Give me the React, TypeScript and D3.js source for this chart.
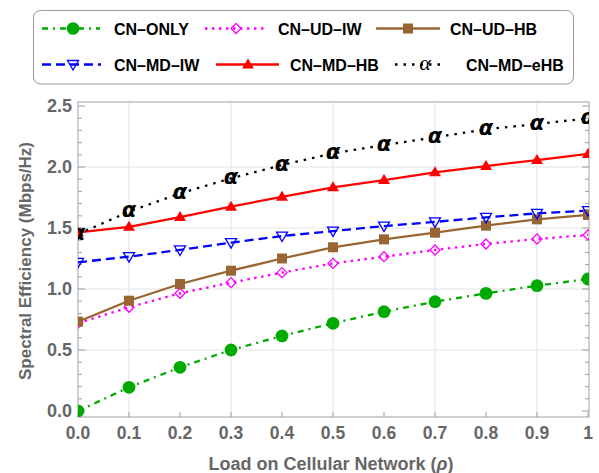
import React from "react";
import * as d3 from "d3";

const rho = [0, 0.1, 0.2, 0.3, 0.4, 0.5, 0.6, 0.7, 0.8, 0.9, 1.0];
const cnOnly = [0, 0.194, 0.358, 0.5, 0.615, 0.719, 0.814, 0.896, 0.964, 1.027, 1.082];
const cnUdIw = [0.72, 0.85, 0.965, 1.052, 1.134, 1.21, 1.265, 1.32, 1.369, 1.41, 1.443];
const cnUdHb = [0.732, 0.904, 1.041, 1.15, 1.25, 1.342, 1.407, 1.462, 1.519, 1.571, 1.607];
const cnMdIw = [1.219, 1.265, 1.32, 1.38, 1.434, 1.475, 1.516, 1.55, 1.587, 1.62, 1.642];
const cnMdHb = [1.464, 1.51, 1.59, 1.675, 1.756, 1.833, 1.893, 1.956, 2.008, 2.057, 2.107];
const cnMdEhb = [1.45, 1.634, 1.784, 1.907, 2.016, 2.112, 2.18, 2.243, 2.309, 2.352, 2.399];

const xTickValues = [0, 0.1, 0.2, 0.3, 0.4, 0.5, 0.6, 0.7, 0.8, 0.9, 1];
const xTickLabels = ["0.0", "0.1", "0.2", "0.3", "0.4", "0.5", "0.6", "0.7", "0.8", "0.9", "1"];
const xGridValues = [0.1, 0.3, 0.5, 0.7, 0.9];
const yTickValues = [0, 0.5, 1.0, 1.5, 2.0, 2.5];
const yTickLabels = ["0.0", "0.5", "1.0", "1.5", "2.0", "2.5"];
const yGridValues = [0.5, 1.0, 1.5, 2.0];
const yMinorValues = d3.range(0, 26).map((i) => i / 10);

const seriesNames = ["CN–ONLY", "CN–UD–IW", "CN–UD–HB", "CN–MD–IW", "CN–MD–HB", "CN–MD–eHB"];

const W = 599;
const H = 473;
const frame = { left: 78, right: 589, top: 102, bottom: 417 };

const x = d3.scaleLinear().domain([0, 1]).range([78, 588]);
const y = d3.scaleLinear().domain([0, 2.5]).range([411, 106]);

type Marker = "circle" | "diamond" | "square" | "tridown" | "triup" | "alpha";

const series: {
  name: string;
  values: number[];
  color: string;
  dash: string;
  marker: Marker;
}[] = [
  { name: seriesNames[0], values: cnOnly, color: "#00aa00", dash: "6,5,2,5", marker: "circle" },
  { name: seriesNames[1], values: cnUdIw, color: "#ff00ff", dash: "2.5,4.5", marker: "diamond" },
  { name: seriesNames[2], values: cnUdHb, color: "#996633", dash: "none", marker: "square" },
  { name: seriesNames[3], values: cnMdIw, color: "#0000ff", dash: "9,5", marker: "tridown" },
  { name: seriesNames[4], values: cnMdHb, color: "#ff0000", dash: "none", marker: "triup" },
  { name: seriesNames[5], values: cnMdEhb, color: "#000000", dash: "2.5,6", marker: "alpha" },
];

function MarkerShape({ m, cx, cy, color, legend }: { m: Marker; cx: number; cy: number; color: string; legend?: boolean }) {
  const t = `translate(${cx},${cy})`;
  switch (m) {
    case "circle":
      return <circle cx={cx} cy={cy} r={legend ? 6.3 : 6.4} fill={color} />;
    case "square":
      return <rect x={cx - 5} y={cy - 5} width={10} height={10} fill={color} />;
    case "diamond":
      return <path transform={t} d="M0,-5L5,0L0,5L-5,0Z" fill="none" stroke={color} strokeWidth={1.3} />;
    case "tridown":
      return <path transform={t} d="M-5.5,-4L5.5,-4L0,5.5Z" fill="none" stroke={color} strokeWidth={1.3} />;
    case "triup":
      return <path transform={t} d="M0,-6L6,4L-6,4Z" fill={color} />;
    case "alpha":
      return legend ? (
        <text x={cx} y={cy + 5} textAnchor="middle" fontFamily="Liberation Serif" fontStyle="italic" fontSize={22} fill={color}>
          α
        </text>
      ) : (
        <text x={cx} y={cy + 5.5} textAnchor="middle" fontFamily="DejaVu Sans" fontStyle="italic" fontWeight="bold" fontSize={21} fill={color}>
          α
        </text>
      );
  }
}

export default function App() {
  const line = d3
    .line<number>()
    .x((_, i) => x(rho[i]))
    .y((d) => y(d));

  const gray = "#666666";
  const legendRows = [
    [
      { s: series[0], x0: 42, x1: 100, mx: 73, tx: 114 },
      { s: series[1], x0: 205, x1: 264, mx: 236, tx: 278 },
      { s: series[2], x0: 376, x1: 440, mx: 408, tx: 450 },
    ],
    [
      { s: series[3], x0: 42, x1: 101, mx: 73, tx: 114 },
      { s: series[4], x0: 216, x1: 279, mx: 248, tx: 290 },
      { s: series[5], x0: 395, x1: 446, mx: 425, tx: 466 },
    ],
  ];
  const rowY = [28.5, 64.5];

  return (
    <svg width={W} height={H} style={{ position: "absolute", left: 0, top: 0 }} fontFamily="Liberation Sans, Arial, sans-serif">
      <rect x={0} y={0} width={W} height={H} fill="white" />
      <defs>
        <clipPath id="plotclip">
          <rect x={frame.left} y={frame.top} width={frame.right - frame.left} height={frame.bottom - frame.top} />
        </clipPath>
      </defs>

      {xGridValues.map((v) => (
        <line key={"gx" + v} x1={x(v)} x2={x(v)} y1={frame.top} y2={frame.bottom} stroke="#e3e3e3" strokeWidth={1} />
      ))}
      {yGridValues.map((v) => (
        <line key={"gy" + v} x1={frame.left} x2={frame.right} y1={y(v)} y2={y(v)} stroke="#e3e3e3" strokeWidth={1} />
      ))}

      <rect x={frame.left} y={frame.top} width={frame.right - frame.left} height={frame.bottom - frame.top} fill="none" stroke="#a0a0a0" strokeWidth={1} />

      {xTickValues.map((v, i) => (
        <g key={"xt" + v}>
          <line x1={x(v)} x2={x(v)} y1={frame.bottom} y2={frame.bottom - 5} stroke="#a0a0a0" />
          <text x={x(v)} y={439} textAnchor="middle" fontSize={17.5} fontWeight="bold" fill={gray}>
            {xTickLabels[i]}
          </text>
        </g>
      ))}
      {yMinorValues.map((v, i) => {
        const major = i % 5 === 0;
        const len = major ? 7 : 4;
        return (
          <g key={"ym" + i}>
            <line x1={frame.left} x2={frame.left + len} y1={y(v)} y2={y(v)} stroke="#a0a0a0" />
            <line x1={frame.right} x2={frame.right - len} y1={y(v)} y2={y(v)} stroke="#a0a0a0" />
          </g>
        );
      })}
      {yTickValues.map((v, i) => (
        <text key={"yt" + v} x={72} y={y(v) + 6} textAnchor="end" fontSize={18} fontWeight="bold" fill={gray}>
          {yTickLabels[i]}
        </text>
      ))}

      <text x={331} y={470} textAnchor="middle" fontSize={18} fontWeight="bold" fill={gray}>
        Load on Cellular Network (<tspan fontStyle="italic">ρ</tspan>)
      </text>
      <text transform={`translate(31,261) rotate(-90)`} textAnchor="middle" fontSize={17} fontWeight="bold" fill={gray}>
        Spectral Efficiency (Mbps/Hz)
      </text>

      <g clipPath="url(#plotclip)">
        {series.map((s) => (
          <path key={"l" + s.name} d={line(s.values) || ""} fill="none" stroke={s.color} strokeWidth={2.3} strokeDasharray={s.dash} />
        ))}
        {series.map((s) => (
          <g key={"m" + s.name}>
            {s.values.map((v, i) => (
              <MarkerShape key={i} m={s.marker} cx={x(rho[i])} cy={y(v)} color={s.color} />
            ))}
          </g>
        ))}
      </g>

      <rect x={33.5} y={10.5} width={540} height={73.5} rx={7} ry={7} fill="white" stroke="#9a9a9a" strokeWidth={1} />
      {legendRows.map((row, ri) =>
        row.map((it) => (
          <g key={"lg" + it.s.name}>
            <line x1={it.x0} x2={it.x1} y1={rowY[ri]} y2={rowY[ri]} stroke={it.s.color} strokeWidth={2.3} strokeDasharray={it.s.dash} />
            <MarkerShape m={it.s.marker} cx={it.mx} cy={rowY[ri]} color={it.s.color} legend />
            <text x={it.tx} y={rowY[ri] + 6} fontSize={16} fontWeight="bold" fill="#000">
              {it.s.name}
            </text>
          </g>
        ))
      )}
    </svg>
  );
}
